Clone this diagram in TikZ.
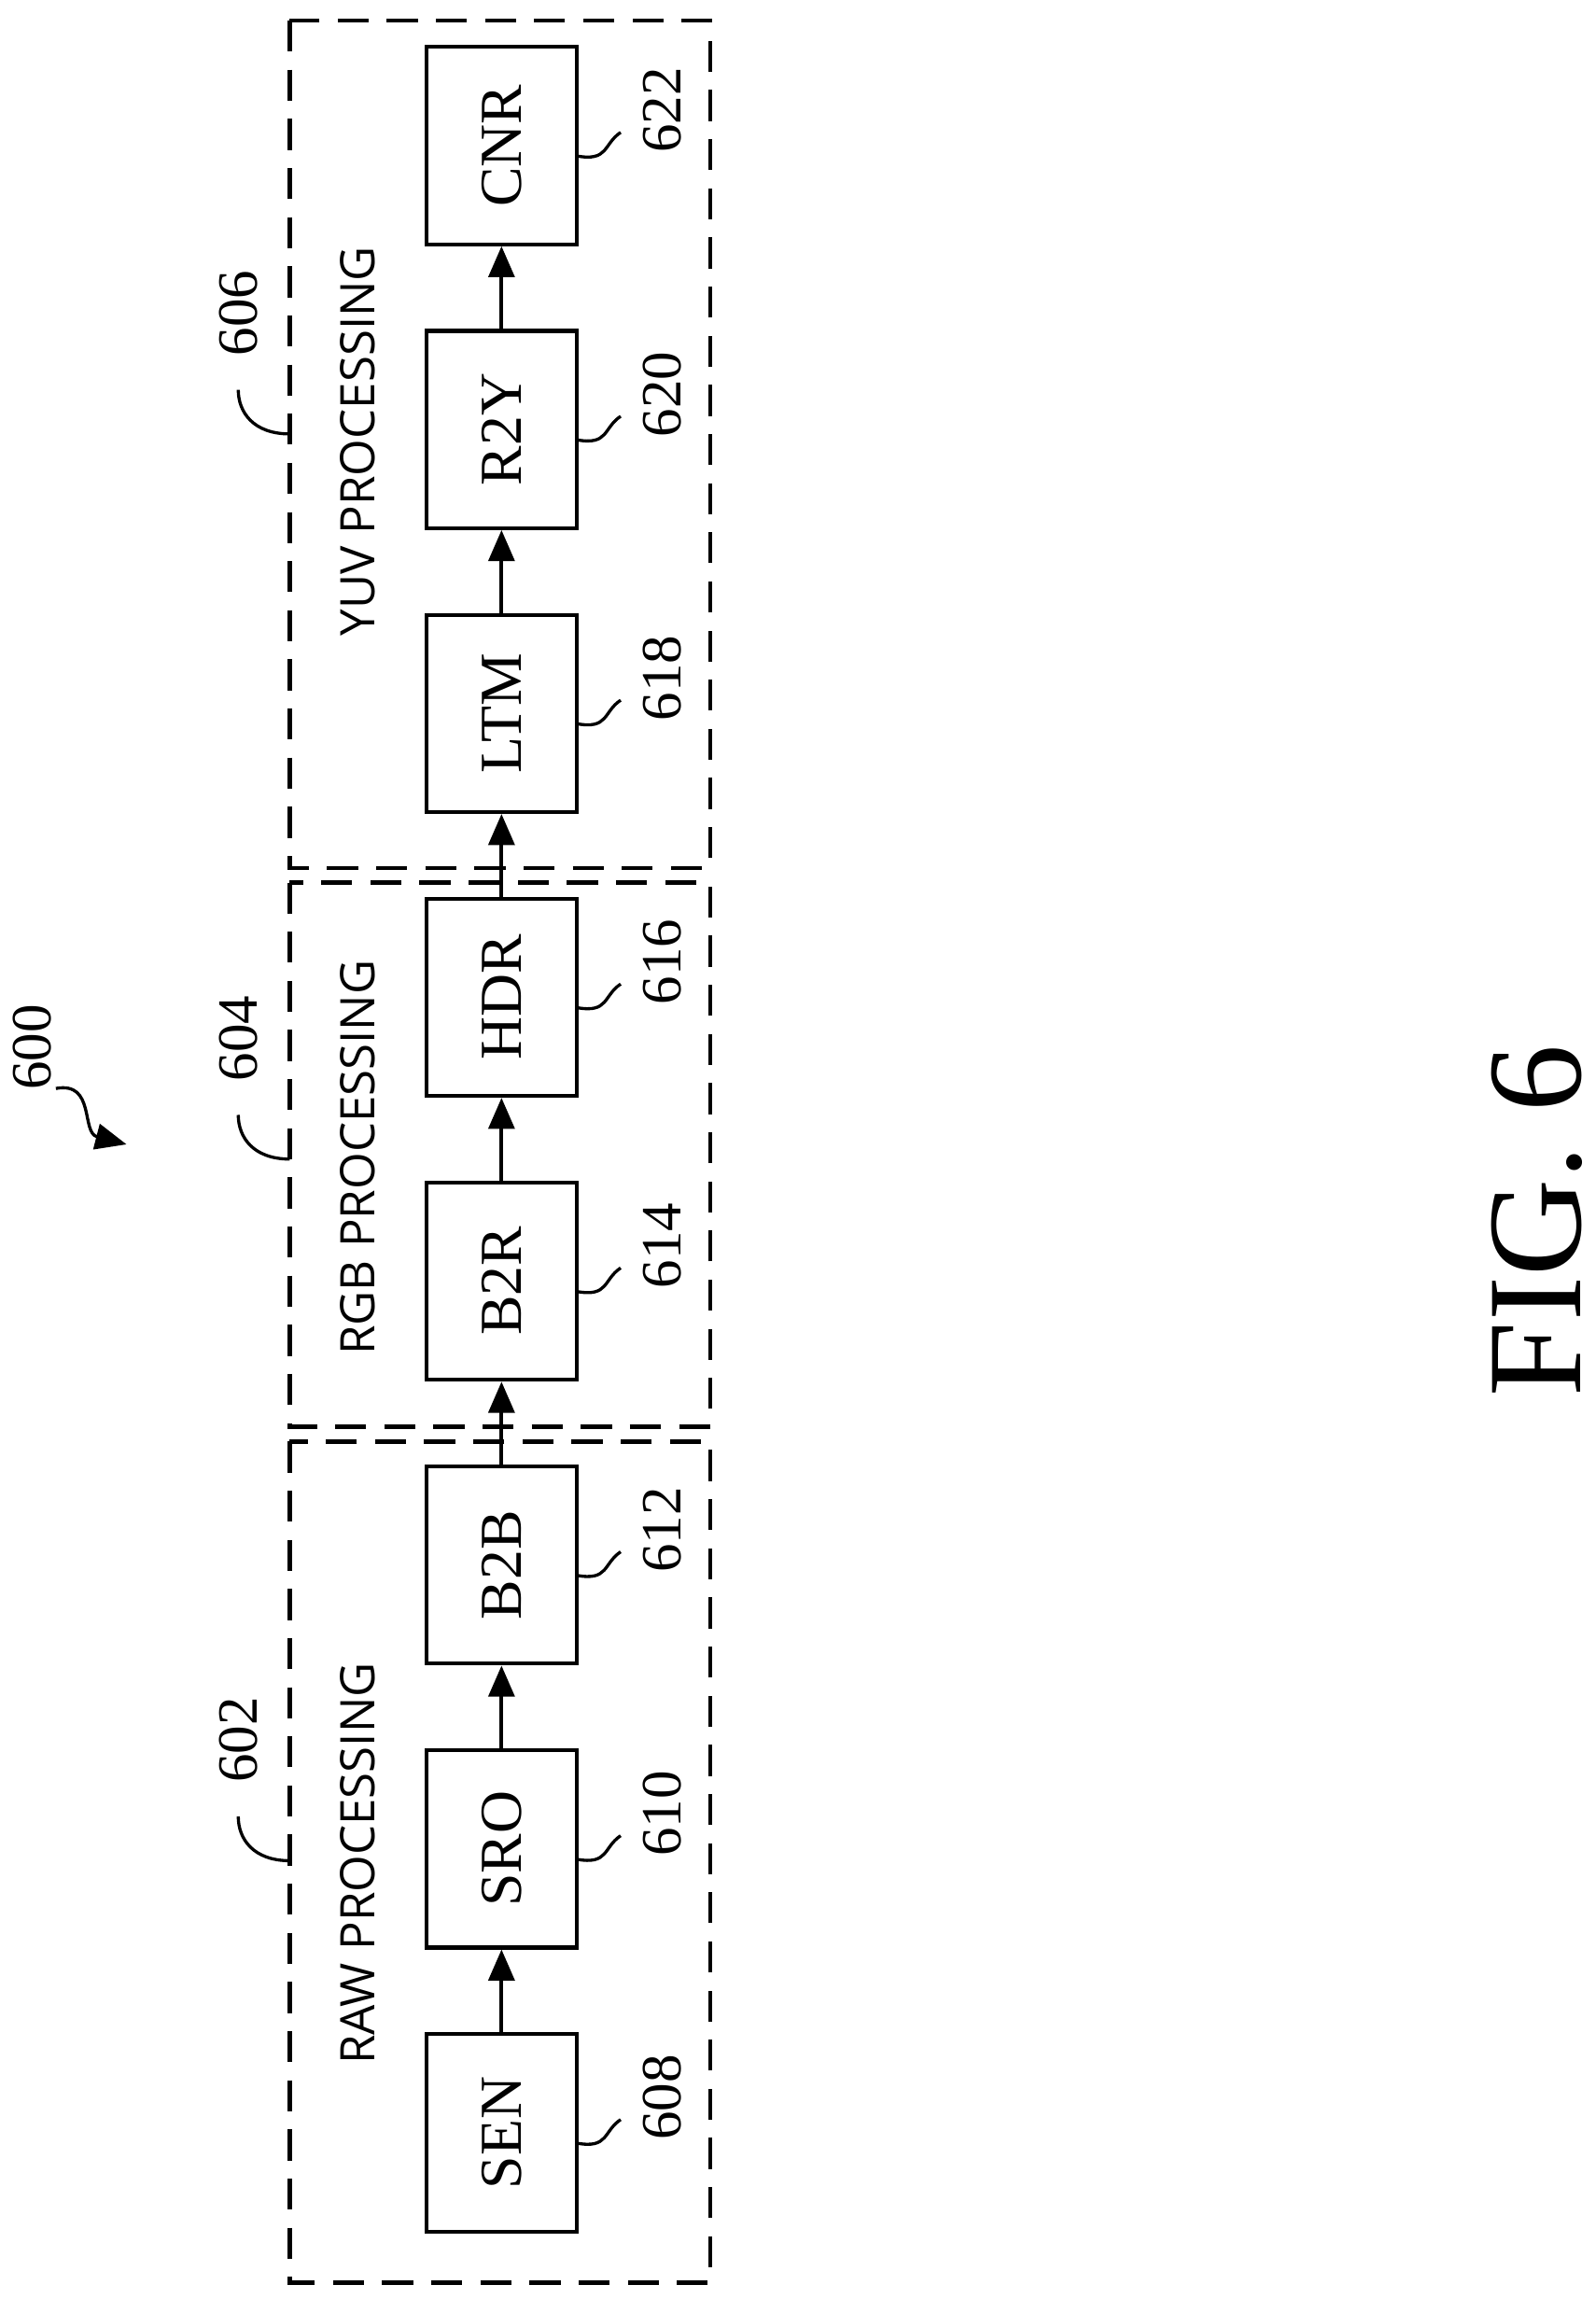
\documentclass[tikz,border=0pt]{standalone}
\usepackage{fontspec}
\setmainfont{Liberation Serif}
\setsansfont{Open Sans}
\usetikzlibrary{arrows.meta}
\begin{document}
\begin{tikzpicture}[x=0.01cm, y=-0.01cm, >={Triangle[length=6pt,width=5pt]}, line width=0.75pt]

\tikzset{
  group/.style={draw, line width=0.8pt, dash pattern=on 6pt off 3.5pt},
  grouplabel/.style={rotate=90, font=\sffamily\fontsize{9.2}{9.2}\selectfont},
  refnum/.style={rotate=90, font=\fontsize{11}{11}\selectfont}
}

\useasboundingbox (0,0) rectangle (1085,1563);

% processing stages
\draw [group] (197,980) rectangle (483,1552);
\draw [group] (197,600) rectangle (483,970);
\draw [group] (197,14) rectangle (483,590);

\foreach \l/\r [count=\y] in {SEN/608, SRO/610, B2B/612, B2R/614, HDR/616, LTM/618, R2Y/620, CNR/622} {
  \node [draw, minimum width=1.02cm, minimum height=1.34cm] (blk-\y) at (341,{1450-(\y-1)*193}) {};
  \node [rotate=90, font=\fontsize{11.5}{11.5}\selectfont] at (blk-\y) {\l};
  \node [refnum] (ref-\y) at (450,{1426-(\y-1)*193}) {\r};
  \draw [line width=0.6pt] (392,{1457-(\y-1)*193}) .. controls +(22,4) and +(-12,8) .. +(30,-16);
}

\foreach \i [count=\j from 2] in {1,...,7}
  \draw [->] (blk-\i) -- (blk-\j);

% stage labels
\node [grouplabel] at (243,1267) {RAW PROCESSING};
\node [grouplabel] at (243,787) {RGB PROCESSING};
\node [grouplabel] at (243,300) {YUV PROCESSING};

\foreach \r/\yy in {602/1265, 604/788, 606/295} {
  \node [refnum] at (162,{\yy-82}) {\r};
  \draw [line width=0.6pt] (197,\yy) .. controls +(-25,0) and +(0,15) .. +(-35,-30);
}

\node [refnum] (ref-600) at (22,712) {600};
\draw [->, line width=0.6pt] (38,740) .. controls (65,735) and (55,770) .. (86,778);

\node [rotate=90, font=\fontsize{26}{26}\selectfont] (fig) at (1045,830) {FIG. 6};

\end{tikzpicture}
\end{document}
